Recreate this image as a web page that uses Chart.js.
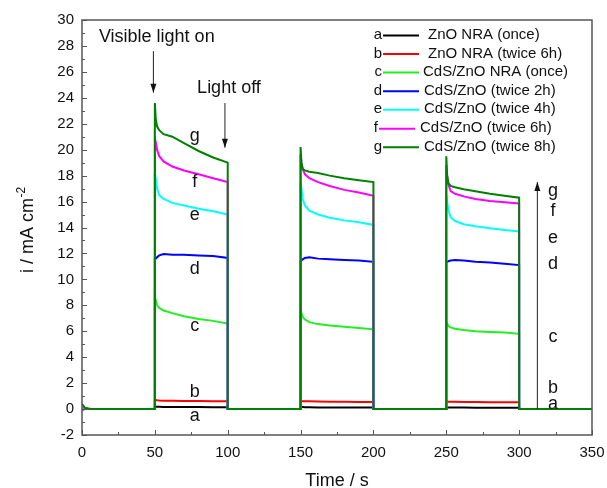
<!DOCTYPE html>
<html>
<head>
<meta charset="utf-8">
<script src="https://cdn.jsdelivr.net/npm/chart.js@4.4.1/dist/chart.umd.min.js"></script>
<style>
  html, body { margin: 0; padding: 0; background: #fff; }
</style>
</head>
<body>
<canvas id="chart" width="607" height="488"></canvas>
<script>
// time axis (s): start, then for each light-on period: off/spike/decay/off
const times = [0, 2, 6,
  50, 50, 50.6, 51.5, 53, 56, 62, 70, 80, 90, 100, 100,
  150, 150, 150.6, 151.5, 153, 156, 162, 170, 180, 190, 200, 200,
  250, 250, 250.6, 251.5, 253, 256, 262, 270, 280, 290, 300, 300,
  350];

// current density (mA cm-2)
const curveA = [0.05, 0, 0,
  0, 0.18, 0.18, 0.17, 0.17, 0.16, 0.16, 0.15, 0.15, 0.14, 0.14, 0,
  0, 0.15, 0.15, 0.15, 0.14, 0.14, 0.13, 0.13, 0.12, 0.12, 0.12, 0,
  0, 0.13, 0.13, 0.13, 0.12, 0.12, 0.12, 0.11, 0.11, 0.11, 0.1, 0,
  0];
const curveB = [0.05, 0, 0,
  0, 0.7, 0.7, 0.68, 0.66, 0.65, 0.64, 0.63, 0.62, 0.61, 0.6, 0,
  0, 0.62, 0.62, 0.61, 0.6, 0.6, 0.58, 0.57, 0.56, 0.55, 0.55, 0,
  0, 0.58, 0.58, 0.57, 0.56, 0.56, 0.55, 0.54, 0.53, 0.53, 0.52, 0,
  0];
const curveC = [0.1, 0, 0,
  0, 8.6, 8.4, 8.0, 7.8, 7.6, 7.4, 7.15, 6.95, 6.8, 6.6, 0,
  0, 7.6, 7.4, 7.1, 6.9, 6.7, 6.55, 6.45, 6.35, 6.25, 6.15, 0,
  0, 6.7, 6.6, 6.4, 6.3, 6.2, 6.1, 6.0, 5.95, 5.9, 5.8, 0,
  0];
const curveD = [0.1, 0, 0,
  0, 11.6, 11.6, 11.7, 11.85, 11.95, 11.9, 11.9, 11.85, 11.8, 11.65, 0,
  0, 11.4, 11.45, 11.55, 11.65, 11.7, 11.6, 11.55, 11.5, 11.45, 11.35, 0,
  0, 11.3, 11.35, 11.4, 11.45, 11.5, 11.45, 11.35, 11.3, 11.2, 11.1, 0,
  0];
const curveE = [0.1, 0, 0,
  0, 18.2, 17.8, 17.0, 16.5, 16.2, 15.9, 15.7, 15.45, 15.25, 15.0, 0,
  0, 17.5, 17.0, 16.2, 15.7, 15.3, 15.0, 14.75, 14.55, 14.4, 14.2, 0,
  0, 16.5, 16.0, 15.3, 14.8, 14.5, 14.25, 14.1, 13.95, 13.8, 13.7, 0,
  0];
const curveF = [-0.1, 0, 0,
  0, 20.9, 20.6, 20.0, 19.5, 19.1, 18.7, 18.4, 18.1, 17.8, 17.5, 0,
  0, 19.6, 19.0, 18.5, 18.1, 17.8, 17.5, 17.2, 16.9, 16.7, 16.45, 0,
  0, 18.8, 18.0, 17.3, 16.8, 16.6, 16.4, 16.2, 16.05, 15.95, 15.85, 0,
  0];
const curveG = [0.4, 0.1, 0,
  0, 23.6, 22.4, 21.8, 21.5, 21.2, 21.0, 20.5, 19.9, 19.4, 19.0, 0,
  0, 20.2, 19.0, 18.5, 18.4, 18.3, 18.2, 18.0, 17.8, 17.65, 17.5, 0,
  0, 19.5, 18.0, 17.4, 17.2, 17.1, 16.95, 16.8, 16.6, 16.45, 16.3, 0,
  0];

const letters = ['a', 'b', 'c', 'd', 'e', 'f', 'g'];
const labels = ['ZnO NRA (once)', 'ZnO NRA (twice 6h)', 'CdS/ZnO NRA (once)',
  'CdS/ZnO (twice 2h)', 'CdS/ZnO (twice 4h)', 'CdS/ZnO (twice 6h)', 'CdS/ZnO (twice 8h)'];
const curves = [curveA, curveB, curveC, curveD, curveE, curveF, curveG];
const xTicks = [0, 50, 100, 150, 200, 250, 300, 350];
const yTicks = [-2, 0, 2, 4, 6, 8, 10, 12, 14, 16, 18, 20, 22, 24, 26, 28, 30];

const colors = ['#000000', '#ff0000', '#22ee22', '#0000ff', '#00ffff', '#ff00ff', '#008000'];
const FONT = '"Liberation Sans", Arial, sans-serif';

const datasets = curves.map((c, i) => ({
  label: labels[i],
  data: c.map((v, k) => ({ x: times[k], y: v })),
  borderColor: colors[i],
  borderWidth: 2,
  pointRadius: 0,
  tension: 0,
  fill: false,
  order: 6 - i
}));

function arrow(ctx, x, y1, y2) {
  ctx.beginPath();
  ctx.moveTo(x, y1);
  ctx.lineTo(x, y2);
  ctx.stroke();
  const d = y2 > y1 ? 1 : -1;
  ctx.beginPath();
  ctx.moveTo(x, y2);
  ctx.lineTo(x - 3, y2 - d * 9);
  ctx.lineTo(x + 3, y2 - d * 9);
  ctx.closePath();
  ctx.fill();
}

const decorations = {
  id: 'decorations',
  afterDraw(chart) {
    const { ctx, chartArea: a } = chart;
    const x = chart.scales.x, y = chart.scales.y;
    ctx.save();

    // frame
    ctx.strokeStyle = '#555';
    ctx.lineWidth = 1.5;
    ctx.strokeRect(a.left, a.top, a.right - a.left, a.bottom - a.top);

    // inward ticks
    ctx.lineWidth = 1;
    ctx.beginPath();
    for (let v = -2; v <= 30; v += 1) {
      const py = Math.round(y.getPixelForValue(v)) + 0.5;
      const len = v % 2 === 0 ? 5 : 3;
      ctx.moveTo(a.left, py);
      ctx.lineTo(a.left + len, py);
    }
    for (let t = 0; t <= 350; t += 25) {
      const px = Math.round(x.getPixelForValue(t)) + 0.5;
      const len = t % 50 === 0 ? 5 : 3;
      ctx.moveTo(px, a.bottom);
      ctx.lineTo(px, a.bottom - len);
    }
    ctx.stroke();

    // annotations
    ctx.fillStyle = '#111';
    ctx.strokeStyle = '#222';
    ctx.lineWidth = 1;
    ctx.font = '18px ' + FONT;
    ctx.textAlign = 'left';
    ctx.textBaseline = 'alphabetic';
    ctx.fillText('Visible light on', x.getPixelForValue(11.6), y.getPixelForValue(28.3));
    ctx.fillText('Light off', x.getPixelForValue(79), y.getPixelForValue(24.4));
    arrow(ctx, x.getPixelForValue(49), y.getPixelForValue(27.6), y.getPixelForValue(24.4));
    arrow(ctx, x.getPixelForValue(98.1), y.getPixelForValue(23.6), y.getPixelForValue(20.15));
    arrow(ctx, x.getPixelForValue(312.5), y.getPixelForValue(0), y.getPixelForValue(17.5));

    // letters beside the curves (first period) and on the right
    const inner = [-0.92, 0.92, 6.0, 10.4, 14.6, 17.1, 20.7];
    const right = [0, 1.23, 5.15, 10.8, 12.8, 14.85, 16.4];
    ctx.textAlign = 'center';
    letters.forEach((l, i) => {
      ctx.fillText(l, x.getPixelForValue(77.4), y.getPixelForValue(inner[i]));
      ctx.fillText(l, x.getPixelForValue(323.2), y.getPixelForValue(right[i]));
    });

    // legend
    const rowY = [35, 53.5, 72, 90.7, 109.3, 128.2, 146.7];
    const textX = [428, 428, 423, 424, 424, 420, 424];
    ctx.font = '15px ' + FONT;
    ctx.textBaseline = 'middle';
    letters.forEach((l, i) => {
      const lx0 = i === 5 ? 379 : 383;
      ctx.fillStyle = '#111';
      ctx.textAlign = 'right';
      ctx.fillText(l, lx0 - 1, rowY[i]);
      ctx.textAlign = 'left';
      ctx.fillText(labels[i], textX[i], rowY[i]);
      ctx.strokeStyle = colors[i];
      ctx.lineWidth = 2;
      ctx.beginPath();
      ctx.moveTo(lx0, rowY[i] + 0.5);
      ctx.lineTo(lx0 + 36, rowY[i] + 0.5);
      ctx.stroke();
    });

    // axis titles
    ctx.fillStyle = '#111';
    ctx.font = '18px ' + FONT;
    ctx.textAlign = 'center';
    ctx.textBaseline = 'alphabetic';
    ctx.fillText('Time / s', (a.left + a.right) / 2, 486);

    ctx.translate(33, 273);
    ctx.rotate(-Math.PI / 2);
    ctx.textAlign = 'left';
    const main = 'i / mA cm';
    ctx.fillText(main, 0, 0);
    const w = ctx.measureText(main).width;
    ctx.font = '12px ' + FONT;
    ctx.fillText('-2', w + 0.5, -8);
    ctx.restore();
  }
};

new Chart(document.getElementById('chart'), {
  type: 'line',
  data: { datasets: datasets },
  options: {
    responsive: false,
    animation: false,
    layout: { padding: { top: 20, right: 15, left: 0, bottom: 0 } },
    plugins: { legend: { display: false }, tooltip: { enabled: false } },
    scales: {
      x: {
        type: 'linear',
        min: 0,
        max: 350,
        afterBuildTicks: s => { s.ticks = xTicks.map(v => ({ value: v })); },
        afterFit: s => { s.height = 53; s.paddingLeft = 0; s.paddingRight = 0; },
        grid: { display: false, drawTicks: false },
        border: { display: false },
        ticks: { color: '#111', font: { family: FONT, size: 15 }, padding: 9, maxRotation: 0 }
      },
      y: {
        type: 'linear',
        min: -2,
        max: 30,
        afterBuildTicks: s => { s.ticks = yTicks.map(v => ({ value: v })); },
        afterFit: s => { s.width = 82; s.paddingTop = 0; s.paddingBottom = 0; },
        grid: { display: false, drawTicks: false },
        border: { display: false },
        ticks: { color: '#111', font: { family: FONT, size: 15 }, padding: 8 }
      }
    }
  },
  plugins: [decorations]
});
</script>
</body>
</html>
